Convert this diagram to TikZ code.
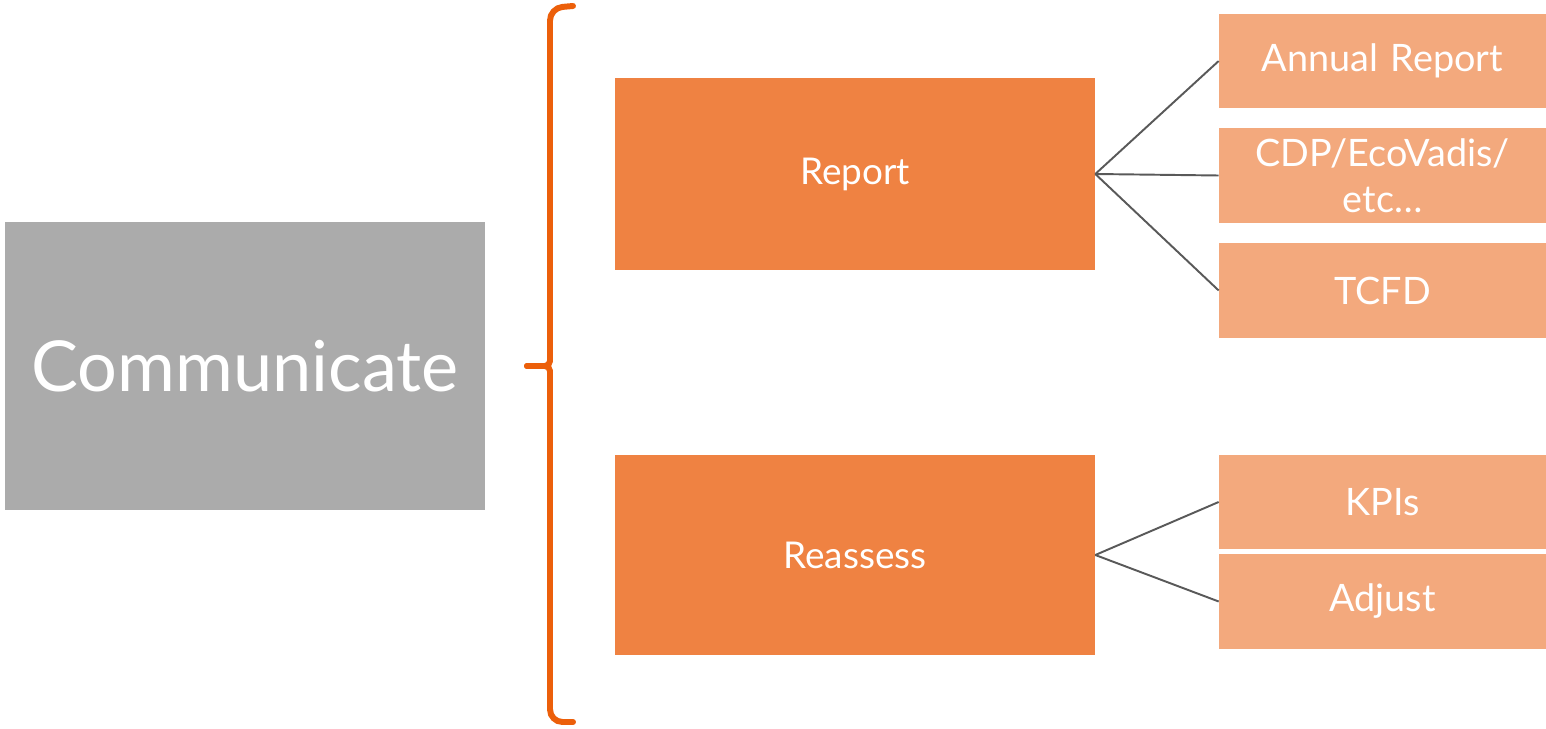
\documentclass[tikz,border=0pt]{standalone}
\usepackage{fontspec}
\setmainfont{Lato}
\usepackage{tikz}
\tikzset{>=latex}
\definecolor{maincol}{HTML}{ABABAB}
\definecolor{stepcol}{HTML}{EF8242}
\definecolor{subcol}{HTML}{F3A97D}
\definecolor{bracecol}{HTML}{EC5F0A}
\definecolor{linkcol}{HTML}{595959}
\tikzstyle{mainbox}=[fill=maincol,text=white,minimum width=9.6cm,minimum height=5.76cm,
                     inner sep=0,font=\fontsize{40}{48}\selectfont]
\tikzstyle{stepbox}=[fill=stepcol,text=white,minimum width=9.6cm,inner sep=0,
                     font=\fontsize{21}{26}\selectfont]
\tikzstyle{subbox}=[fill=subcol,text=white,minimum width=6.54cm,minimum height=1.9cm,
                    text width=6.4cm,align=center,inner sep=0,font=\fontsize{21.5}{26}\selectfont]
\tikzstyle{link}=[linkcol,line width=1.1pt]
\tikzstyle{bracket}=[bracecol,line width=3.4pt,line cap=round]

\begin{document}
\begin{tikzpicture}[x=0.02cm,y=-0.02cm]
  \useasboundingbox (0,0) rectangle (1546,729);

  % MAIN BOX
  \node[mainbox] (comm) at (245,366) {Communicate};

  % BRACE
  \draw[bracket] (573,6) [rounded corners=0.25cm] -- (550,8) [rounded corners=0.1cm]
    -- (550,366) -- (527,366);
  \draw[bracket] (527,366) [rounded corners=0.1cm] -- (550,366)
    [rounded corners=0.25cm] -- (550,722) -- (573,722);

  % STEPS
  \node[stepbox,minimum height=3.84cm] (report) at (855,174) {Report};
  \node[stepbox,minimum height=4.0cm] (reassess) at (855,555) {Reassess};

  % SUB ITEMS
  \node[subbox] (annual) at (1382.5,61) {Annual Report};
  \node[subbox] (cdp) at (1382.5,175.5) {CDP/EcoVadis/\\etc…};
  \node[subbox] (tcfd) at (1382.5,290.5) {TCFD};
  \node[subbox] (kpis) at (1382.5,502) {KPIs};
  \node[subbox] (adjust) at (1382.5,601.5) {Adjust};

  % LINKS
  \foreach \s in {annual,cdp,tcfd}{
    \draw[link] (report.east) -- (\s.west);
  }
  \foreach \s in {kpis,adjust}{
    \draw[link] (reassess.east) -- (\s.west);
  }

\end{tikzpicture}
\end{document}
